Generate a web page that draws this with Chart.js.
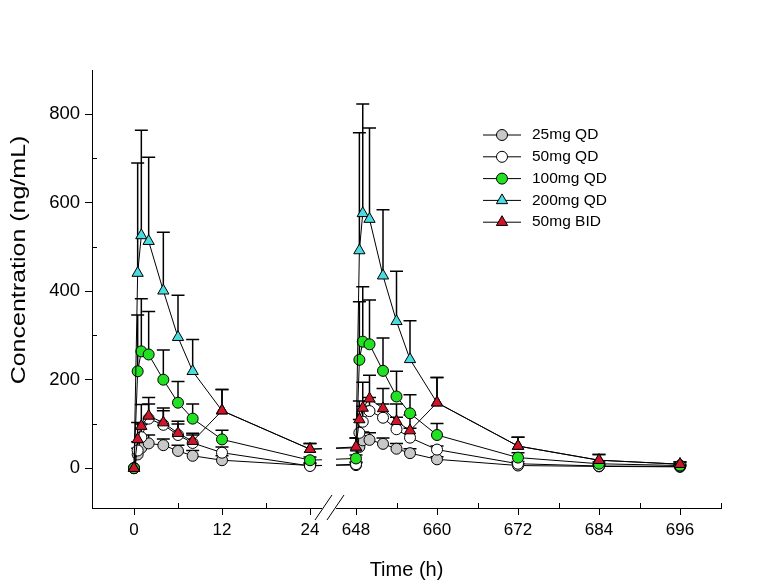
<!DOCTYPE html>
<html><head><meta charset="utf-8">
<script src="https://cdn.jsdelivr.net/npm/chart.js@4.4.1/dist/chart.umd.min.js"></script>
<style>html,body{margin:0;padding:0;background:#fff;}#wrap{width:782px;height:587px;position:relative;}</style>
</head><body><div id="wrap"><canvas id="c" width="782" height="587"></canvas></div>
<script>
// ---- data ----
const times = [0,0.5,1,2,4,6,8,12,24,648,648.5,649,650,652,654,656,660,672,684,696];
const seriesNames = ['25mg QD','50mg QD','100mg QD','200mg QD','50mg BID'];
const mean25  = [0,31,46,56,52,39,28,18,6, 7,48,63,64,55,44,34,20,6,4,3];
const upper25 = [0,45,62,75,66,52,40,28,10, 12,68,82,80,68,56,44,26,10,7,5];
const mean50  = [0,40,70,112,98,75,57,35,5, 9,80,105,129,114,88,69,42,10,5,4];
const upper50 = [0,60,100,145,130,100,75,48,12, 14,110,140,160,145,115,90,50,15,8,6];
const mean100  = [0,219,264,257,200,148,112,65,18, 22,245,286,280,220,162,124,75,24,10,6];
const upper100 = [0,346,383,354,267,196,145,86,25, 30,376,410,380,294,219,166,101,35,14,9];
const mean200  = [0,441,526,513,401,296,219,130,43, 46,492,576,563,435,332,246,148,50,18,9];
const upper200 = [0,690,764,703,533,391,291,178,56, 68,758,823,769,584,445,333,205,70,31,14];
const meanBID  = [0,65,95,118,103,79,61,130,43, 48,110,136,157,135,106,85,148,50,18,9];
const upperBID = [0,103,144,160,136,106,79,178,56, 68,152,194,210,180,145,120,205,70,31,14];
const xTickTimes  = [0,12,24,648,660,672,684,696];
const xTickLabels = ['0','12','24','648','660','672','684','696'];
const xMinorTimes = [6,18,654,666,678,690,702];
const yTickValues = [0,200,400,600,800];
const yMinorValues = [100,300,500,700];
const yTitle = 'Concentration (ng/mL)';
const xTitle = 'Time (h)';

// broken time axis: left segment 0-24 h, right segment 648-702 h
function toU(t){ return t < 100 ? t*88/12 : 222 + (t-648)*6.75; }
const BREAK_U = 195;

const FONT = "'Liberation Sans', Arial, sans-serif";
const styles = [
  {fill:'#c8c8c8', shape:'circle', r:5.5},
  {fill:'#ffffff', shape:'circle', r:5.5},
  {fill:'#22e022', shape:'circle', r:5.5},
  {fill:'#48dce0', shape:'triangle', r:6.5},
  {fill:'#d0142a', shape:'triangle', r:6.5}
];
const means = [mean25, mean50, mean100, mean200, meanBID];
const uppers = [upper25, upper50, upper100, upper200, upperBID];

const datasets = seriesNames.map((name,k)=>({
  label: name,
  data: times.map((t,i)=>({x: toU(t), y: means[k][i]})),
  borderColor:'#000', borderWidth:1, tension:0, fill:false,
  pointStyle: styles[k].shape, pointRadius: styles[k].r, pointHoverRadius: styles[k].r,
  pointBackgroundColor: styles[k].fill, pointBorderColor:'#000', pointBorderWidth:1,
  order: 4-k
}));

const errPlugin = {
  id:'errbars',
  beforeDatasetsDraw(chart){
    const ctx = chart.ctx, xs = chart.scales.x, ys = chart.scales.y;
    ctx.save(); ctx.strokeStyle = '#000'; ctx.lineWidth = 1.5;
    means.forEach((m,k)=>{
      times.forEach((t,i)=>{
        if (uppers[k][i] <= m[i]) return;
        const x = xs.getPixelForValue(toU(t));
        const y0 = ys.getPixelForValue(m[i]), y1 = ys.getPixelForValue(uppers[k][i]);
        ctx.beginPath();
        ctx.moveTo(x, y0); ctx.lineTo(x, y1);
        ctx.moveTo(x-6.5, y1); ctx.lineTo(x+6.5, y1);
        ctx.stroke();
      });
    });
    ctx.restore();
  }
};

const decoPlugin = {
  id:'deco',
  afterDraw(chart){
    const ctx = chart.ctx, xs = chart.scales.x, ys = chart.scales.y, ca = chart.chartArea;
    ctx.save();
    // minor ticks (inward)
    ctx.strokeStyle = '#000'; ctx.lineWidth = 1;
    xMinorTimes.forEach(t=>{
      const x = Math.round(xs.getPixelForValue(toU(t)))+0.5;
      ctx.beginPath(); ctx.moveTo(x, ca.bottom); ctx.lineTo(x, ca.bottom-5); ctx.stroke();
    });
    yMinorValues.forEach(v=>{
      const y = Math.round(ys.getPixelForValue(v))+0.5;
      ctx.beginPath(); ctx.moveTo(ca.left, y); ctx.lineTo(ca.left+5, y); ctx.stroke();
    });
    // axis break
    const bx = xs.getPixelForValue(BREAK_U);
    ctx.fillStyle = '#fff';
    ctx.fillRect(bx-7, ca.top, 14, ca.bottom - ca.top + 2);
    ctx.beginPath();
    [bx-6, bx+6].forEach(cx=>{
      ctx.moveTo(cx-8, ca.bottom+12); ctx.lineTo(cx+9, ca.bottom-13);
    });
    ctx.stroke();
    // legend
    ctx.font = '15.5px ' + FONT;
    ctx.textBaseline = 'middle'; ctx.textAlign = 'left';
    seriesNames.forEach((name,k)=>{
      const y = 135 + k*21.8;
      ctx.strokeStyle = '#000'; ctx.lineWidth = 1;
      ctx.beginPath(); ctx.moveTo(483, y); ctx.lineTo(521, y); ctx.stroke();
      ctx.fillStyle = styles[k].fill;
      Chart.helpers.drawPoint(ctx, {pointStyle: styles[k].shape, radius: styles[k].r, borderWidth:1}, 502, y);
      ctx.fillStyle = '#000';
      ctx.fillText(name, 532, y);
    });
    // y-axis title (stretched along its length like the reference)
    ctx.translate(19, 260);
    ctx.rotate(-Math.PI/2);
    ctx.scale(1.25, 1);
    ctx.font = '20px ' + FONT;
    ctx.textAlign = 'center'; ctx.textBaseline = 'middle';
    ctx.fillText(yTitle, 0, 0);
    ctx.restore();
  }
};

new Chart(document.getElementById('c'), {
  type:'line',
  data:{datasets},
  options:{
    responsive:false, animation:false, devicePixelRatio:1,
    layout:{padding:{left:0, top:70, right:61, bottom:0}},
    plugins:{legend:{display:false}, tooltip:{enabled:false}},
    scales:{
      x:{
        type:'linear', min:-42, max:587,
        afterBuildTicks(s){ s.ticks = xTickTimes.map(t=>({value: toU(t)})); },
        afterFit(s){ s.height = 79; },
        ticks:{ autoSkip:false, maxRotation:0, padding:5, color:'#000', font:{family:FONT, size:17},
          callback(v){ const i = xTickTimes.findIndex(t=>Math.abs(toU(t)-v)<0.01); return i>=0 ? xTickLabels[i] : ''; } },
        grid:{ drawOnChartArea:false, drawTicks:true, tickLength:7, tickColor:'#000', tickWidth:1 },
        border:{ display:true, color:'#000', width:1 },
        title:{ display:true, text:xTitle, color:'#000', font:{family:FONT, size:20}, padding:{top:0,bottom:5} }
      },
      y:{
        type:'linear', min:-90, max:900,
        afterBuildTicks(s){ s.ticks = yTickValues.map(v=>({value:v})); },
        afterFit(s){ s.width = 92; },
        ticks:{ padding:5, color:'#000', font:{family:FONT, size:18.5} },
        grid:{ drawOnChartArea:false, drawTicks:true, tickLength:7, tickColor:'#000', tickWidth:1 },
        border:{ display:true, color:'#000', width:1 },
        title:{ display:false }
      }
    }
  },
  plugins:[errPlugin, decoPlugin]
});
</script></body></html>
